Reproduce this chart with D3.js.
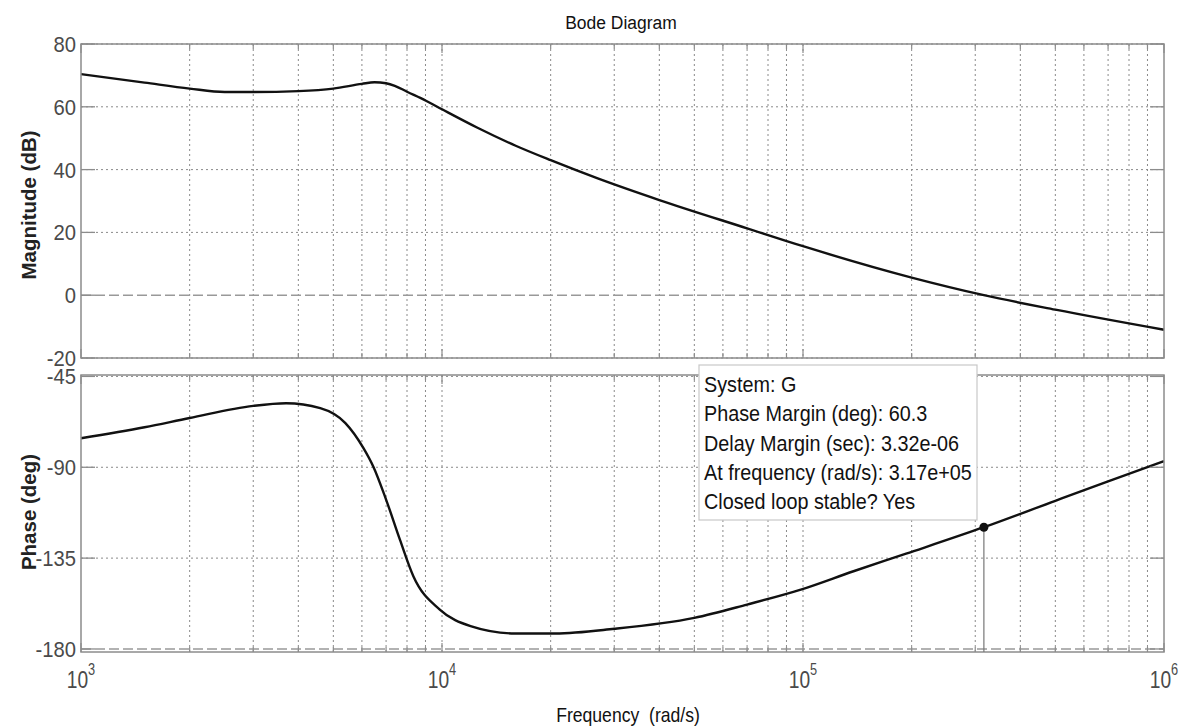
<!DOCTYPE html>
<html><head><meta charset="utf-8">
<script src="https://cdn.jsdelivr.net/npm/d3@7"></script>
<style>
html,body{margin:0;padding:0;background:#fff;}
svg{display:block;font-family:"Liberation Sans",Arial,sans-serif;}
</style></head>
<body>
<svg id="chart" width="1192" height="727"></svg>
<script>
// ---- data ----
const magFreq = [1000,1500,2000,2500,3000,4000,5000,6000,6500,7000,7400,8000,9000,10000,12500,16000,20000,27000,40000,70000,100000,200000,317000,500000,1000000];
const magDb   = [70.4,67.7,65.8,64.7,64.7,65.0,65.8,67.3,67.8,67.5,66.7,64.8,62.0,59.2,53.4,47.6,43.0,37.2,30.3,21.3,15.6,5.6,0,-4.6,-11.0];
const phFreq  = [1000,1500,2000,3000,3700,4600,5400,6060,6450,7000,7650,8330,9860,12000,15900,20600,30000,50000,70000,98600,138000,193000,317000,500000,700000,1000000];
const phDeg   = [-75.6,-70.2,-65.6,-59.6,-58.3,-60.7,-68.1,-80.5,-89.6,-106,-126,-144,-160.5,-168.7,-172.3,-172.3,-170.0,-164.6,-158.0,-150.6,-141.5,-132.8,-119.7,-106.6,-97.0,-87.0];
const magTicks = [-20,0,20,40,60,80];
const phTicks  = [-180,-135,-90,-45];
const decadeTicks = [1e3,1e4,1e5,1e6];
const pmFreq = 3.17e5, pmPhase = -119.7;
const annotation = ["System: G","Phase Margin (deg): 60.3","Delay Margin (sec): 3.32e-06","At frequency (rad/s): 3.17e+05","Closed loop stable? Yes"];
const title = "Bode Diagram";
const xTitle = "Frequency  (rad/s)";
const magTitle = "Magnitude (dB)";
const phTitle = "Phase (deg)";

// ---- layout ----
const svg = d3.select("#chart");
const L = 81, R = 1164;
const x = d3.scaleLog().domain([1e3,1e6]).range([L,R]);
const yMag = d3.scaleLinear().domain([-20,80]).range([358,44]);
const yPh  = d3.scaleLinear().domain([-181.5,-44.3]).range([652,375]);
const gridColor = "#8a8a8a", frameColor = "#8c8c8c", tickText = "#4a4a4a";

const minor = [];
for (let k=3;k<6;k++) for (let m=1;m<10;m++) minor.push(m*Math.pow(10,k));
minor.push(1e6);
const inner = minor.filter(v => v>1e3 && v<1e6);

function panel(y, ticks, refVal, vals, freqs) {
  const g = svg.append("g");
  const [y0,y1] = y.range(); // bottom, top
  g.selectAll(null).data(inner).join("line")
    .attr("x1", d=>x(d)).attr("x2", d=>x(d)).attr("y1", y1).attr("y2", y0)
    .attr("stroke", gridColor).attr("stroke-width", 1).attr("stroke-dasharray","2,3");
  g.selectAll(null).data(ticks.filter(t => t!==refVal)).join("line")
    .attr("x1", L).attr("x2", R).attr("y1", d=>y(d)).attr("y2", d=>y(d))
    .attr("stroke", gridColor).attr("stroke-width", 1).attr("stroke-dasharray","2,3");
  g.append("line").attr("x1", L).attr("x2", R).attr("y1", y(refVal)).attr("y2", y(refVal))
    .attr("stroke", "#999").attr("stroke-width", 1.6).attr("stroke-dasharray","10,4");
  const line = d3.line().x((d,i)=>x(freqs[i])).y(d=>y(d)).curve(d3.curveMonotoneX);
  g.append("path").datum(vals).attr("d", line).attr("fill","none")
    .attr("stroke","#111").attr("stroke-width",2.4);
  g.append("rect").attr("x", L).attr("y", y1).attr("width", R-L).attr("height", y0-y1)
    .attr("fill","none").attr("stroke", frameColor).attr("stroke-width",1.5);
  const isMajor = d => Math.abs(Math.log10(d) - Math.round(Math.log10(d))) < 1e-9;
  g.selectAll(null).data(minor).join("line")
    .attr("x1", d=>x(d)).attr("x2", d=>x(d)).attr("y1", y0).attr("y2", d=> y0 - (isMajor(d)?9:5))
    .attr("stroke", frameColor).attr("stroke-width",1.2);
  g.selectAll(null).data(minor).join("line")
    .attr("x1", d=>x(d)).attr("x2", d=>x(d)).attr("y1", y1).attr("y2", d=> y1 + (isMajor(d)?9:5))
    .attr("stroke", frameColor).attr("stroke-width",1.2);
  g.selectAll(null).data(ticks).join("line")
    .attr("x1", L).attr("x2", L+14).attr("y1", d=>y(d)).attr("y2", d=>y(d))
    .attr("stroke", frameColor).attr("stroke-width",1.3);
  g.selectAll(null).data(ticks).join("line")
    .attr("x1", R-14).attr("x2", R).attr("y1", d=>y(d)).attr("y2", d=>y(d))
    .attr("stroke", frameColor).attr("stroke-width",1.3);
  g.selectAll(null).data(ticks).join("g")
    .attr("transform", d=>`translate(${L-5},${y(d)}) scale(0.92,1)`)
    .append("text").attr("text-anchor","end").attr("dy","0.36em")
    .attr("font-size",22).attr("fill",tickText).text(d=>d);
  return g;
}

panel(yMag, magTicks, 0, magDb, magFreq);
const gp = panel(yPh, phTicks, -180, phDeg, phFreq);

gp.append("line").attr("x1", x(pmFreq)).attr("x2", x(pmFreq))
  .attr("y1", yPh(pmPhase)).attr("y2", yPh.range()[0])
  .attr("stroke","#777").attr("stroke-width",1.2);
gp.append("circle").attr("cx", x(pmFreq)).attr("cy", yPh(pmPhase)).attr("r",4.5).attr("fill","#111");

svg.selectAll(null).data(decadeTicks).join("g")
  .attr("transform", d=>`translate(${x(d)},688) scale(0.8,1)`)
  .each(function(d){
    const t = d3.select(this).append("text").attr("text-anchor","middle")
      .attr("font-size",24).attr("fill",tickText);
    t.append("tspan").text("10");
    t.append("tspan").attr("dy",-13).attr("font-size",16).text(Math.round(Math.log10(d)));
  });

svg.append("g").attr("transform","translate(621,29) scale(0.92,1)")
  .append("text").attr("text-anchor","middle")
  .attr("font-size",19).attr("fill","#111").text(title);
svg.append("g").attr("transform","translate(628,722) scale(0.88,1)")
  .append("text").attr("text-anchor","middle").attr("font-size",20).attr("fill","#111")
  .style("white-space","pre").text(xTitle);
svg.append("text").attr("transform","translate(36,205) rotate(-90)").attr("text-anchor","middle")
  .attr("font-size",20.5).attr("font-weight","bold").attr("fill","#222").text(magTitle);
svg.append("text").attr("transform","translate(36,512) rotate(-90)").attr("text-anchor","middle")
  .attr("font-size",20.5).attr("font-weight","bold").attr("fill","#222").text(phTitle);

const bx = 699, by = 365, bw = 278, bh = 155;
svg.append("rect").attr("x",bx).attr("y",by).attr("width",bw).attr("height",bh)
  .attr("fill","#fff").attr("stroke","#c8c8c8").attr("stroke-width",1.2);
svg.selectAll(null).data(annotation).join("g")
  .attr("transform",(d,i)=>`translate(${bx+5},${by+27+i*29.3}) scale(0.9,1)`)
  .append("text").attr("font-size",22).attr("fill","#111").text(d=>d);
</script>
</body></html>
